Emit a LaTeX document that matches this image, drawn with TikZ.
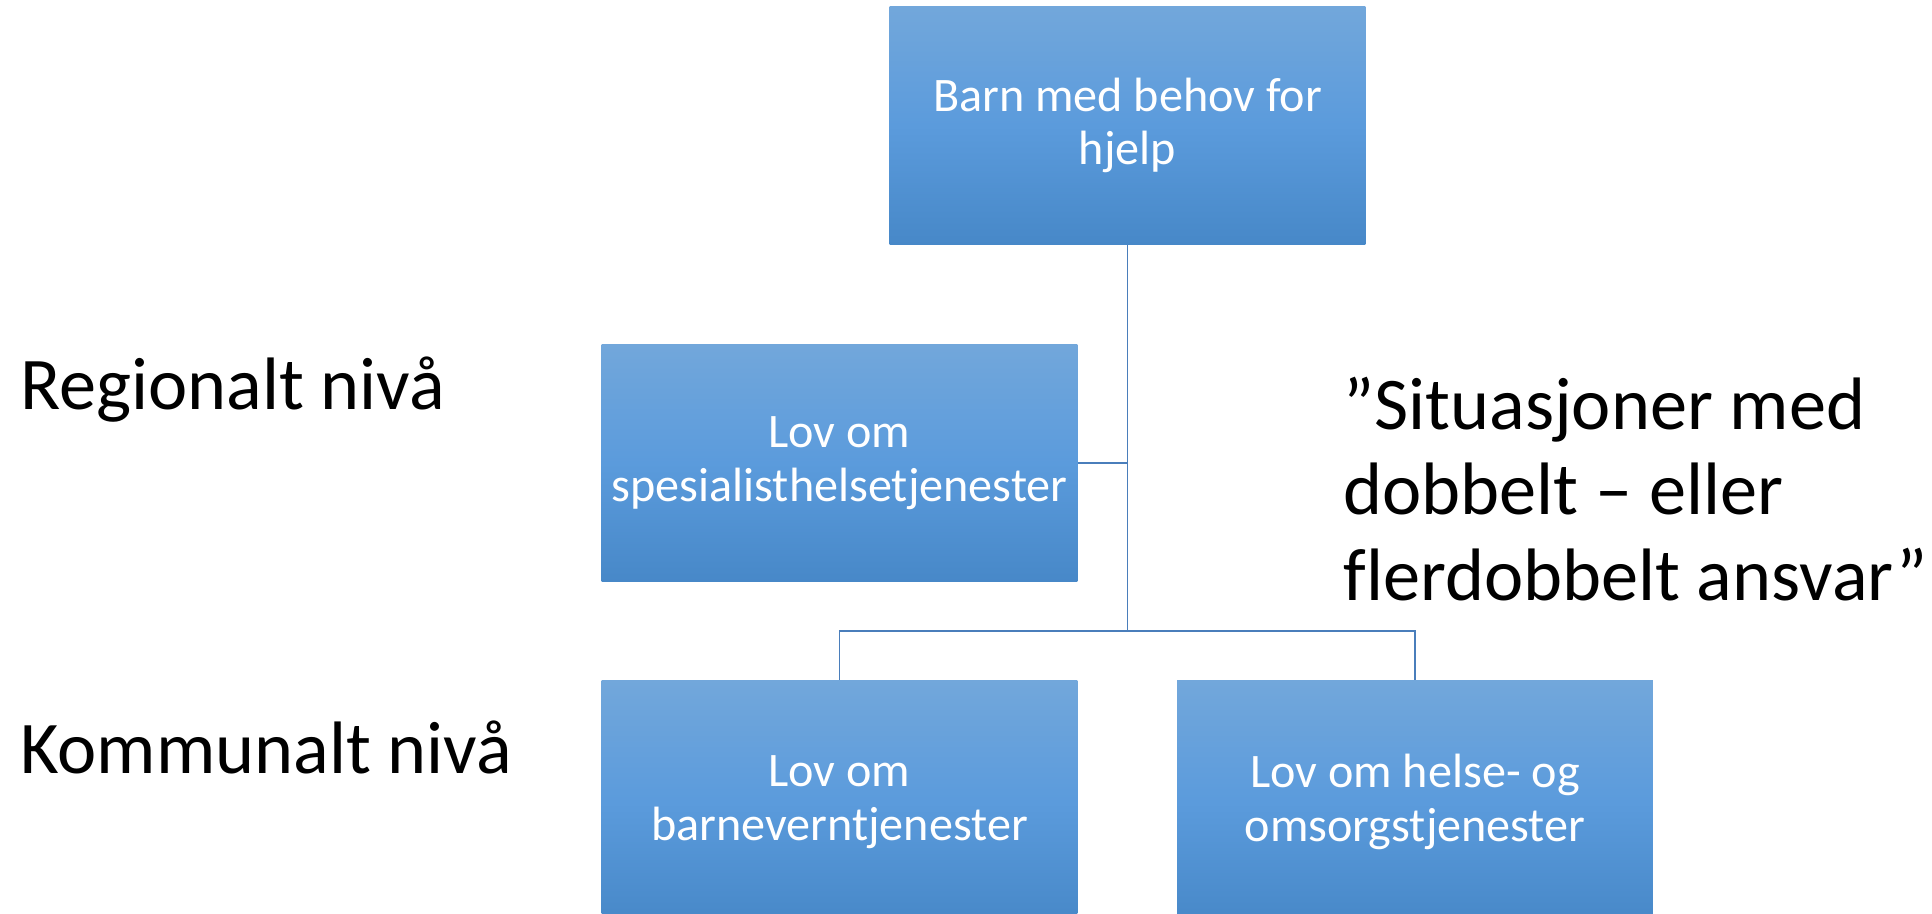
\documentclass[tikz,border=0pt]{standalone}
\usepackage{fontspec}
\setmainfont{Carlito}[Ligatures=NoCommon]
\definecolor{boxtop}{HTML}{72A7DB}
\definecolor{boxmid}{HTML}{5B9BDC}
\definecolor{boxbot}{HTML}{4788C8}
\definecolor{linkblue}{HTML}{4A7EBB}
\tikzset{
  lawbox/.style={rectangle, draw=none, minimum width=9.52cm, minimum height=4.76cm,
    inner sep=0pt, top color=boxtop, bottom color=boxbot, middle color=boxmid,
    text=white, align=center, font=\fontsize{27.4}{30.5}\selectfont},
  link/.style={draw=linkblue, line width=1.1pt},
  level/.style={anchor=base west, inner sep=0pt, font=\fontsize{42.3}{48.9}\selectfont}
}
\begin{document}
\begin{tikzpicture}[x=0.02cm, y=-0.02cm]
  \path[use as bounding box] (0,0) rectangle (1932,913);
  \clip (0,0) rectangle (1932,913);
  \fill[white] (0,0) rectangle (1932,913);

  % hierarchy boxes
  \node[lawbox] (child) at (1127.5,125.5) {Barn med behov for\\hjelp};
  \node[lawbox] (spes) at (839.5,463) {Lov om\\spesialisthelsetjenester};
  \node[lawbox, minimum height=4.88cm] (barnevern) at (839.5,802) {Lov om\\barneverntjenester};
  \node[lawbox, minimum height=4.88cm] (helse) at (1415,802) {Lov om helse- og\\omsorgstjenester};

  % org-chart connectors
  \coordinate (fork) at (1127.5,631);
  \draw[link] (child.south) -- (fork);
  \draw[link] (spes.east) -- (spes.east -| child.south);
  \draw[link] (barnevern.north) |- (fork) -| (helse.north);

  % level labels
  \node[level] (regional) at (20,409) {Regionalt nivå};
  \node[level] (kommunal) at (20,773) {Kommunalt nivå};

  % quotation
  \node[level] (quote) at (1343,429) {\begin{tabular}[t]{@{}l@{}}”Situasjoner med\\dobbelt – eller\\flerdobbelt ansvar”\end{tabular}};
\end{tikzpicture}
\end{document}
